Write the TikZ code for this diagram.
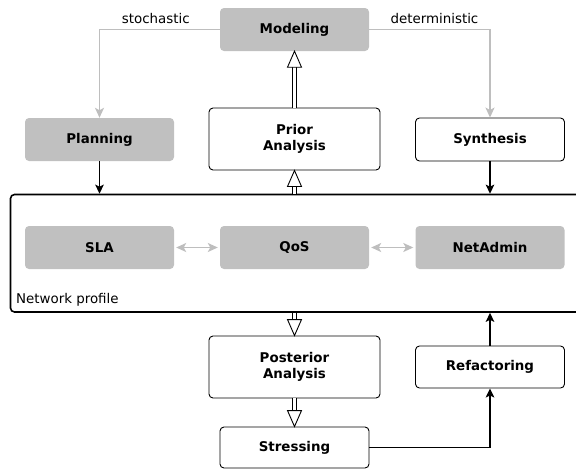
\documentclass[tikz,border=0pt]{standalone}
\usepackage{fontspec}
\setmainfont{DejaVu Sans}
\usetikzlibrary{arrows.meta,calc}
\definecolor{boxgray}{HTML}{C0C0C0}
\definecolor{linegray}{HTML}{BEBEBE}
\newcommand{\dblarrow}[2]{%
  \coordinate (dbA) at (#1);
  \coordinate (dbB) at (#2);
  \coordinate (dbC) at ($(dbB)!16pt!(dbA)$);
  \draw[dblshaft] (dbA) -- (dbC);
  \draw[dblhead] (dbB) -- ($(dbC)!7pt!90:(dbB)$) -- ($(dbC)!7pt!-90:(dbB)$) -- cycle;
}
\begin{document}
\begin{tikzpicture}[x=1pt, y=-1pt,
  txt/.style={font=\fontsize{13.4}{16}\selectfont},
  graybox/.style={fill=boxgray, rounded corners=4pt, minimum width=149pt, minimum height=43pt,
    inner sep=0pt, align=center, font=\fontsize{13.4}{16}\selectfont\bfseries},
  whitebox/.style={draw=black, line width=0.9pt, fill=white, rounded corners=4pt,
    minimum width=149pt, minimum height=43pt, inner sep=0pt, align=center,
    font=\fontsize{13.4}{16}\selectfont\bfseries},
  widebox/.style={whitebox, minimum width=171pt, minimum height=62pt},
  npbox/.style={draw=black, line width=1.6pt, rounded corners=4pt, minimum width=571.5pt,
    minimum height=117.5pt, inner sep=0pt},
  grayarrow/.style={draw=linegray, line width=1.5pt, -{Stealth[length=10pt,width=9pt,inset=2.5pt]}},
  grayboth/.style={draw=linegray, line width=1.5pt,
    {Stealth[length=10pt,width=9pt,inset=2.5pt]}-{Stealth[length=10pt,width=9pt,inset=2.5pt]},
    shorten <=2pt, shorten >=2pt},
  blackarrow/.style={draw=black, line width=1.8pt, -{Stealth[length=9pt,width=8.5pt,inset=2pt]}},
  dblshaft/.style={draw=black, line width=0.9pt, double=white, double distance=3.4pt},
  dblhead/.style={draw=black, line width=0.9pt, fill=white, line join=miter},
]
\useasboundingbox (0,0) rectangle (576,469);

% network profile container
\node[npbox] (np) at (296.25,253.25) {};
\node[txt, anchor=base west, inner sep=0pt] (nplabel) at ([xshift=6.2pt, yshift=9pt]np.south west) {Network profile};

% top row
\node[graybox] (model) at (294.5,29.5) {Modeling};
\node[graybox] (plan) at (99.5,139.5) {Planning};
\node[widebox] (prior) at (294.5,139) {Prior\\Analysis};
\node[whitebox] (synth) at (490,139.5) {Synthesis};

% inside network profile
\node[graybox] (sla) at (99.5,247.5) {SLA};
\node[graybox] (qos) at (294.5,247.5) {QoS};
\node[graybox] (netadmin) at (490,247.5) {NetAdmin};

% bottom
\node[widebox] (post) at (294.5,367) {Posterior\\Analysis};
\node[whitebox, minimum height=42pt] (refac) at (490,367) {Refactoring};
\node[whitebox, minimum height=41pt] (stress) at (294.5,447.5) {Stressing};

% connectors
\draw[grayarrow] (model.west) -| node[txt, pos=0.266, anchor=base, yshift=6.5pt] {stochastic} (plan.north);
\draw[grayarrow] (model.east) -| node[txt, pos=0.27, anchor=base, yshift=6.5pt] {deterministic} (synth.north);

\draw[blackarrow] (plan.south) -- (plan.south |- np.north);
\draw[blackarrow] (synth.south) -- (synth.south |- np.north);

\dblarrow{prior.north}{model.south}
\coordinate (npPriorIn) at (prior.south |- np.north);
\dblarrow{npPriorIn}{prior.south}

\draw[grayboth] (sla.east) -- (qos.west);
\draw[grayboth] (qos.east) -- (netadmin.west);

\coordinate (npPostOut) at (post.north |- np.south);
\dblarrow{npPostOut}{post.north}
\dblarrow{post.south}{stress.north}

\draw[blackarrow] (stress.east) -| (refac.south);
\draw[blackarrow] (refac.north) -- (refac.north |- np.south);
\end{tikzpicture}
\end{document}
